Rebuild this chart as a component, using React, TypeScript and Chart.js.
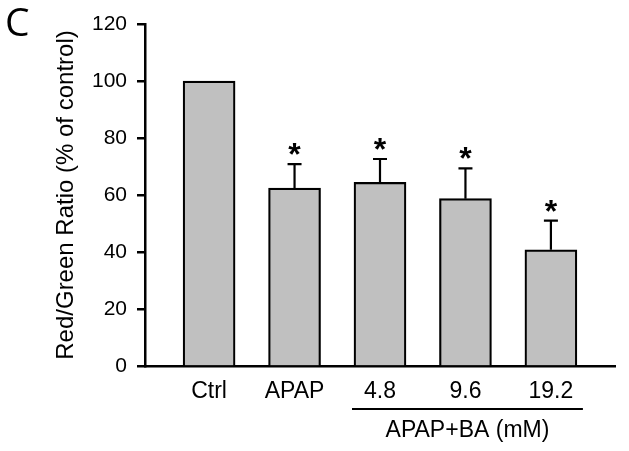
import React, { useEffect, useRef } from 'react';
import { Chart, registerables } from 'chart.js';

Chart.register(...registerables);

const FONT = "'Liberation Sans', Arial, sans-serif";

const panelLabel = 'C';
const yTitle = 'Red/Green Ratio (% of control)';
const groupLabel = 'APAP+BA (mM)';
const categories = ['Ctrl', 'APAP', '4.8', '9.6', '19.2'];
const means = [100, 62.5, 64.5, 58.8, 40.9];
const sems = [0, 8.4, 8.2, 10.6, 10.2];
const significant = [false, true, true, true, true];
const yTicks = [0, 20, 40, 60, 80, 100, 120];
const groupStart = 2;
const groupEnd = 4;

export default function App() {
  const ref = useRef<HTMLCanvasElement>(null);

  useEffect(() => {
    const canvas = ref.current!;
    const overlay = {
      id: 'overlay',
      afterDatasetsDraw(chart: any) {
        const ctx = chart.ctx as CanvasRenderingContext2D;
        const xs = chart.scales.x;
        const ys = chart.scales.y;
        ctx.save();
        ctx.strokeStyle = '#000';
        ctx.fillStyle = '#000';
        ctx.lineWidth = 2.2;
        // error bars + stars
        means.forEach((m, i) => {
          const x = xs.getPixelForValue(i);
          const yBar = ys.getPixelForValue(m);
          const yTop = ys.getPixelForValue(m + sems[i]);
          if (sems[i] > 0) {
            ctx.beginPath();
            ctx.moveTo(x, yBar);
            ctx.lineTo(x, yTop);
            ctx.moveTo(x - 7, yTop);
            ctx.lineTo(x + 7, yTop);
            ctx.stroke();
          }
          if (significant[i]) {
            ctx.font = `bold 32px ${FONT}`;
            ctx.textAlign = 'center';
            ctx.textBaseline = 'alphabetic';
            const mt = ctx.measureText('*');
            const off = (-mt.actualBoundingBoxAscent + mt.actualBoundingBoxDescent) / 2;
            ctx.fillText('*', x, yTop - 15 - off);
          }
        });
        // group bracket
        const bx1 = xs.getPixelForValue(groupStart) - 28;
        const bx2 = xs.getPixelForValue(groupEnd) + 32;
        ctx.beginPath();
        ctx.moveTo(bx1, 409);
        ctx.lineTo(bx2, 409);
        ctx.stroke();
        ctx.font = `23px ${FONT}`;
        ctx.textAlign = 'center';
        ctx.textBaseline = 'alphabetic';
        ctx.fillText(groupLabel, (bx1 + bx2) / 2, 437);
        // y title
        ctx.save();
        ctx.translate(73, 195);
        ctx.rotate(-Math.PI / 2);
        ctx.font = `24px ${FONT}`;
        ctx.textAlign = 'center';
        ctx.textBaseline = 'alphabetic';
        ctx.fillText(yTitle, 0, 0);
        ctx.restore();
        // panel label
        ctx.font = `39px 'Open Sans', ${FONT}`;
        ctx.textAlign = 'left';
        ctx.textBaseline = 'alphabetic';
        ctx.fillText(panelLabel, 5, 36);
        ctx.restore();
      },
    };

    const chart = new Chart(canvas, {
      type: 'bar',
      data: {
        datasets: [
          {
            data: means.map((m, i) => ({ x: i, y: m })),
            backgroundColor: '#c0c0c0',
            borderColor: '#000',
            borderWidth: 2.2,
            barThickness: 52,
          },
        ],
      },
      options: {
        animation: false,
        responsive: false,
        devicePixelRatio: 1,
        layout: { padding: { left: 0, right: 14, top: 24, bottom: 0 } },
        plugins: { legend: { display: false }, tooltip: { enabled: false } },
        scales: {
          x: {
            type: 'linear',
            offset: false,
            min: -0.75,
            max: 4.75,
            grid: { display: false, drawTicks: false, offset: false },
            border: { display: true, color: '#000', width: 2.5 },
            afterBuildTicks: (s: any) => {
              s.ticks = categories.map((_, i) => ({ value: i }));
            },
            afterFit: (s: any) => {
              s.height = 84.5;
            },
            ticks: {
              callback: (v: any) => categories[v] ?? '',
              font: { family: FONT, size: 23 },
              color: '#000',
              padding: 11,
              maxRotation: 0,
              autoSkip: false,
            },
          },
          y: {
            min: 0,
            max: 120,
            afterBuildTicks: (s: any) => {
              s.ticks = yTicks.map((v) => ({ value: v }));
            },
            afterFit: (s: any) => {
              s.width = 145;
            },
            grid: { drawOnChartArea: false, tickLength: 8, color: '#000', lineWidth: 2.5 },
            border: { display: true, color: '#000', width: 2.5 },
            ticks: { font: { family: FONT, size: 21 }, color: '#000', padding: 10 },
          },
        },
      },
      plugins: [overlay],
    } as any);

    return () => chart.destroy();
  }, []);

  return (
    <div style={{ position: 'fixed', left: 0, top: 0, width: 629, height: 451, background: '#fff' }}>
      <canvas ref={ref} width={629} height={451} style={{ width: 629, height: 451, display: 'block' }} />
    </div>
  );
}
